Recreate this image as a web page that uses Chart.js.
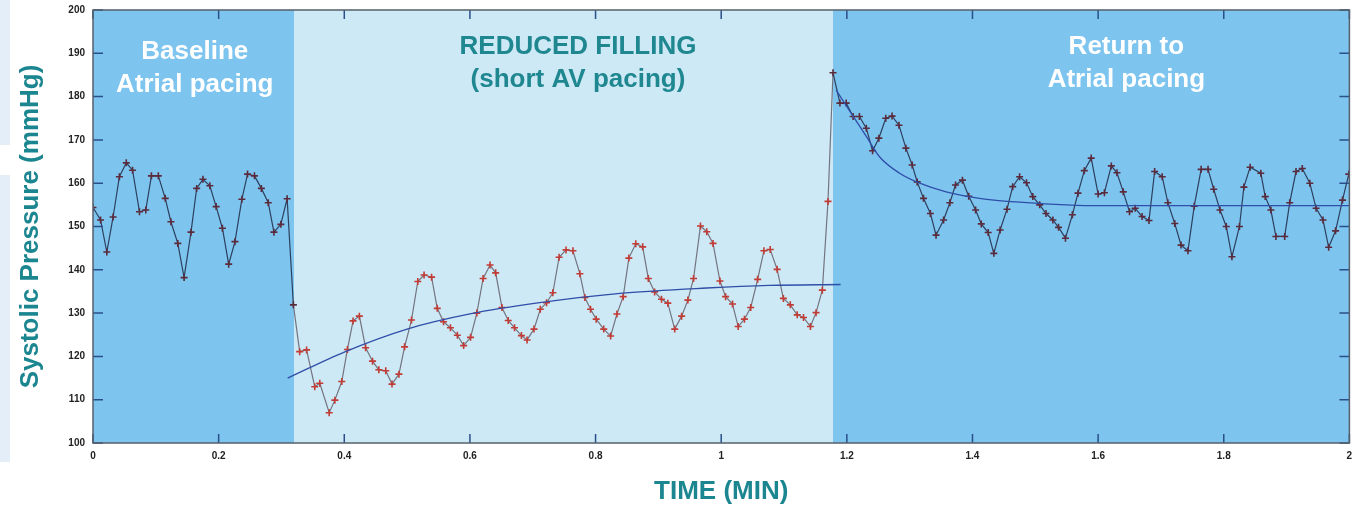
<!DOCTYPE html>
<html>
<head>
<meta charset="utf-8">
<script src="https://cdn.jsdelivr.net/npm/chart.js@4.4.1/dist/chart.umd.min.js"></script>
<style>
  body { margin: 0; background: #fff; }
  #wrap { position: relative; width: 1355px; height: 507px; }
  .strip { position: absolute; left: 0; width: 10px; background: #e3eef9; }
  canvas { position: absolute; left: 0; top: 0; }
</style>
</head>
<body>
<div id="wrap">
  <div class="strip" style="top:0;height:145px"></div>
  <div class="strip" style="top:175px;height:287px"></div>
  <canvas id="bpChart" width="1355" height="507"></canvas>
</div>
<script>
// time in minutes, systolic pressure in mmHg (read beat by beat off the trace)
const timeMin = [
  0.000,0.012,0.022,0.032,0.042,0.053,0.063,0.074,0.084,0.093,
  0.104,0.115,0.124,0.135,0.145,0.156,0.165,0.175,0.186,0.196,
  0.206,0.216,0.226,0.237,0.246,0.257,0.268,0.279,0.288,0.299,
  0.309,
  0.319,0.329,0.340,0.353,0.361,0.376,0.385,0.396,0.405,0.414,
  0.424,0.434,0.445,0.455,0.466,0.476,0.487,0.496,0.507,0.517,
  0.527,0.539,0.548,0.558,0.569,0.580,0.590,0.601,0.611,0.621,
  0.632,0.641,0.651,0.661,0.671,0.682,0.691,0.702,0.712,0.722,
  0.732,0.742,0.753,0.764,0.775,0.783,0.792,0.801,0.813,0.824,
  0.834,0.844,0.853,0.864,0.875,0.884,0.894,0.905,0.915,0.926,
  0.937,0.947,0.956,0.967,0.977,0.987,0.998,1.007,1.018,1.027,
  1.037,1.047,1.058,1.068,1.078,1.089,1.099,1.110,1.121,1.131,
  1.142,1.151,1.161,1.170,
  1.178,1.189,1.199,1.210,1.220,1.231,1.241,1.251,1.262,1.272,
  1.283,1.294,1.304,1.312,1.322,1.333,1.342,1.354,1.364,1.373,
  1.384,1.394,1.405,1.414,1.425,1.434,1.444,1.455,1.464,1.475,
  1.486,1.496,1.507,1.517,1.528,1.537,1.548,1.559,1.568,1.578,
  1.589,1.600,1.610,1.621,1.630,1.640,1.650,1.659,1.670,1.681,
  1.690,1.702,1.711,1.722,1.732,1.743,1.753,1.764,1.775,1.784,
  1.794,1.804,1.813,1.825,1.832,1.842,1.859,1.866,1.875,1.883,
  1.897,1.905,1.915,1.925,1.937,1.947,1.958,1.967,1.978,1.989,
  1.999
];
const systolic = [
  154.4,151.5,144.1,152.2,161.5,164.7,163.0,153.4,153.8,161.7,
  161.7,156.5,151.1,146.1,138.2,148.7,158.8,160.9,159.4,154.6,
  149.6,141.3,146.5,156.3,162.1,161.7,158.8,155.5,148.7,150.5,
  156.4,
  131.9,121.1,121.5,113.0,113.8,107.0,109.9,114.2,121.6,128.2,
  129.3,122.0,118.9,116.9,116.7,113.6,115.9,122.2,128.4,137.3,
  138.8,138.3,131.1,128.0,126.6,124.9,122.5,124.4,130.0,138.0,
  141.1,139.3,131.3,128.3,126.6,124.8,123.8,126.3,130.9,132.4,
  134.7,142.9,144.6,144.4,139.1,133.6,130.9,128.6,126.3,124.7,
  129.8,133.8,142.7,146.0,145.3,138.0,134.9,133.2,132.3,126.3,
  129.3,133.0,138.0,150.1,148.8,146.1,137.4,133.8,132.1,126.9,
  128.6,131.3,137.8,144.4,144.7,140.1,133.4,131.9,129.6,129.0,
  126.9,130.1,135.3,155.8,
  185.5,178.5,178.5,175.4,175.4,172.7,167.5,170.4,175.0,175.5,
  173.4,168.1,164.2,160.3,156.5,153.0,148.0,151.5,155.5,159.6,
  160.7,157.0,153.8,150.6,148.6,143.8,149.2,154.0,159.2,161.5,
  160.1,156.9,155.0,153.0,151.5,149.8,147.3,152.7,157.7,162.9,
  165.8,157.5,157.8,164.0,162.4,158.0,153.4,154.2,152.3,151.4,
  162.7,161.5,155.5,150.7,145.7,144.4,154.7,163.2,163.2,158.6,
  153.8,150.0,143.0,150.0,159.1,163.7,162.3,156.9,153.8,147.7,
  147.7,155.5,162.7,163.4,160.0,154.2,151.5,145.2,149.0,156.1,
  162.1
];

// fitted curves
const fitMidTime = [0.31, 0.40, 0.50, 0.60, 0.711, 0.843, 0.977, 1.077, 1.19];
const fitMidValue = [115.0, 121.0, 126.3, 129.8, 132.4, 134.6, 135.8, 136.4, 136.6];
const fitEndTime = [1.183, 1.231, 1.252, 1.284, 1.316, 1.358, 1.411, 1.486, 1.549, 1.602, 2.0];
const fitEndValue = [181.5, 170.8, 166.1, 162.3, 160.0, 158.0, 156.5, 155.5, 155.0, 154.8, 154.8];

// pacing phases
const phaseBounds = [0, 0.32, 1.178, 2];
const phaseLabels = [['Baseline', 'Atrial pacing'], ['REDUCED FILLING', '(short AV pacing)'], ['Return to', 'Atrial pacing']];
const phaseLabelX = [0.162, 0.772, 1.645];

const phaseFill = ['#7dc4ef', '#cde9f5', '#7dc4ef'];
const phaseText = ['#ffffff', '#1f8790', '#ffffff'];
const labelTop = [52, 47, 47];
const TEAL = '#1b8690';
const FONT = "'Liberation Sans', Arial, sans-serif";

const inMiddle = x => x > phaseBounds[1] && x < phaseBounds[2];
const toPoints = (xs, ys) => xs.map((x, i) => ({ x: x, y: ys[i] }));

const phasePlugin = {
  id: 'phases',
  beforeDatasetsDraw(chart) {
    const { ctx, chartArea: a, scales: { x } } = chart;
    ctx.save();
    for (let i = 0; i < phaseFill.length; i++) {
      const x0 = x.getPixelForValue(phaseBounds[i]);
      const x1 = x.getPixelForValue(phaseBounds[i + 1]);
      ctx.fillStyle = phaseFill[i];
      ctx.fillRect(x0, a.top, x1 - x0, a.height);
    }
    ctx.restore();
  },
  afterDatasetsDraw(chart) {
    const { ctx, chartArea: a, scales: { x, y } } = chart;
    ctx.save();
    ctx.strokeStyle = '#2b4f8a';
    ctx.lineWidth = 1.5;
    ctx.beginPath();
    x.ticks.forEach(t => {
      const px = x.getPixelForValue(t.value);
      ctx.moveTo(px, a.bottom); ctx.lineTo(px, a.bottom - 9);
      ctx.moveTo(px, a.top); ctx.lineTo(px, a.top + 9);
    });
    y.ticks.forEach(t => {
      const py = y.getPixelForValue(t.value);
      ctx.moveTo(a.left, py); ctx.lineTo(a.left + 10, py);
      ctx.moveTo(a.right, py); ctx.lineTo(a.right - 10, py);
    });
    ctx.stroke();
    ctx.strokeStyle = '#56606a';
    ctx.lineWidth = 1.5;
    ctx.strokeRect(a.left, a.top, a.width, a.height);

    ctx.font = 'bold 26px ' + FONT;
    ctx.textAlign = 'center';
    ctx.textBaseline = 'middle';
    phaseLabels.forEach((lines, i) => {
      ctx.fillStyle = phaseText[i];
      const px = x.getPixelForValue(phaseLabelX[i]);
      lines.forEach((s, j) => ctx.fillText(s, px, labelTop[i] + j * 33));
    });
    ctx.restore();
  }
};

new Chart(document.getElementById('bpChart'), {
  type: 'scatter',
  data: {
    datasets: [
      {
        data: toPoints(fitMidTime, fitMidValue),
        showLine: true,
        borderColor: '#2f4ea8',
        borderWidth: 1.3,
        pointRadius: 0,
        cubicInterpolationMode: 'monotone'
      },
      {
        data: toPoints(fitEndTime, fitEndValue),
        showLine: true,
        borderColor: '#2f4ea8',
        borderWidth: 1.3,
        pointRadius: 0,
        cubicInterpolationMode: 'monotone'
      },
      {
        data: toPoints(timeMin, systolic),
        showLine: true,
        borderWidth: 1.2,
        borderColor: '#2c3f5e',
        segment: {
          borderColor: c => inMiddle((c.p0.parsed.x + c.p1.parsed.x) / 2) ? '#727480' : '#2c3f5e'
        },
        pointStyle: 'cross',
        pointRadius: 3.5,
        pointBorderWidth: 1.6,
        pointBorderColor: c => (c.parsed && inMiddle(c.parsed.x)) ? '#c23b35' : '#5b2b3c'
      }
    ]
  },
  options: {
    responsive: false,
    animation: false,
    layout: { padding: { top: 10, right: 5, left: 0, bottom: 0 } },
    plugins: { legend: { display: false }, tooltip: { enabled: false } },
    scales: {
      x: {
        type: 'linear',
        min: 0,
        max: 2,
        grid: { display: false, drawTicks: false },
        border: { display: false },
        ticks: {
          stepSize: 0.2,
          padding: 7,
          color: '#222',
          font: { family: FONT, size: 10, weight: 'bold' },
          callback: v => String(Number(v.toFixed(1)))
        },
        title: {
          display: true,
          text: 'TIME (MIN)',
          color: TEAL,
          font: { family: FONT, size: 26, weight: 'bold' },
          padding: { top: 0, bottom: 0 }
        },
        afterFit: s => { s.height = 64; s.paddingLeft = 0; s.paddingRight = 0; }
      },
      y: {
        min: 100,
        max: 200,
        grid: { display: false, drawTicks: false },
        border: { display: false },
        ticks: {
          stepSize: 10,
          padding: 8,
          color: '#222',
          font: { family: FONT, size: 10, weight: 'bold' }
        },
        title: {
          display: true,
          text: 'Systolic Pressure (mmHg)',
          color: TEAL,
          font: { family: FONT, size: 26, weight: 'bold' },
          padding: { top: 15, bottom: 0 }
        },
        afterFit: s => { s.width = 93; s.paddingTop = 0; s.paddingBottom = 0; }
      }
    }
  },
  plugins: [phasePlugin]
});
</script>
</body>
</html>
